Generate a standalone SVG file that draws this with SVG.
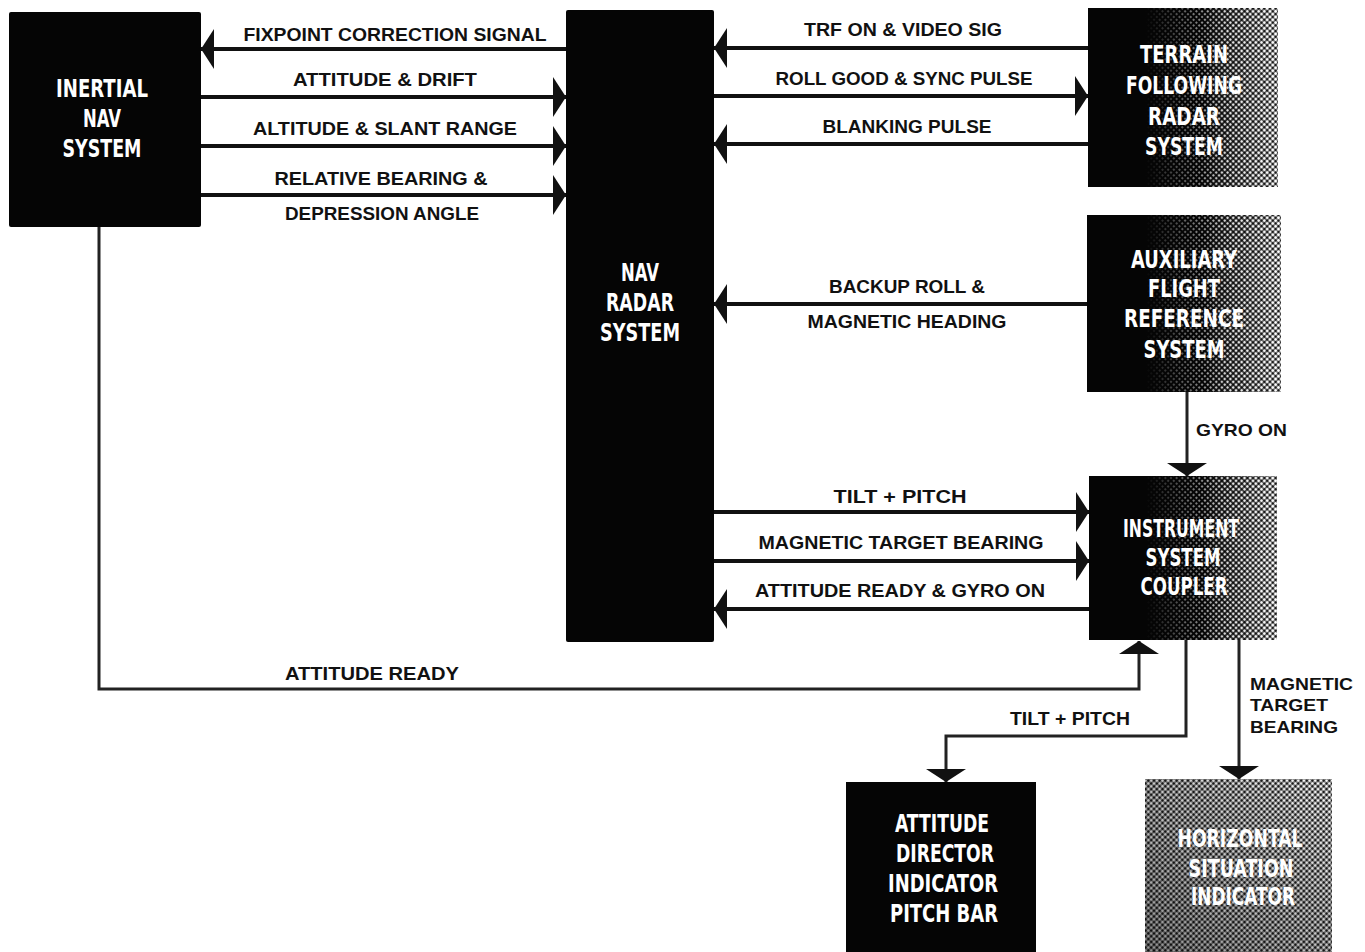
<svg xmlns="http://www.w3.org/2000/svg" width="1365" height="952" viewBox="0 0 1365 952">
  <style>
    .box { fill: #050505; }
    .btxt { fill: #ffffff; font-family: "DejaVu Sans Condensed", "Liberation Sans Narrow", "Liberation Sans", sans-serif; font-weight: bold; font-size: 25px; text-anchor: middle; }
    .lbl { fill: #111111; font-family: "Liberation Sans", Arial, sans-serif; font-weight: bold; font-size: 18px; text-anchor: middle; }
    .lbl-l { fill: #111111; font-family: "Liberation Sans", Arial, sans-serif; font-weight: bold; font-size: 17px; }
    .wire { fill: none; stroke: #111111; stroke-width: 4; marker-end: url(#head); }
    .wire-v { fill: none; stroke: #222222; stroke-width: 3; marker-end: url(#head); }
  </style>
  <defs>
    <marker id="head" markerUnits="userSpaceOnUse" markerWidth="13" markerHeight="40" refX="13" refY="20" orient="auto" viewBox="0 0 13 40">
      <path d="M0,0 L13,20 L0,40 Z" fill="#111111"/>
    </marker>
    <!-- halftone screens -->
    <pattern id="dotsSmall" width="4" height="4" patternUnits="userSpaceOnUse" patternTransform="rotate(45)">
      <circle cx="2" cy="2" r="1.1" fill="#ffffff"/>
    </pattern>
    <pattern id="dotsLarge" width="4" height="4" patternUnits="userSpaceOnUse" patternTransform="rotate(45)">
      <circle cx="2" cy="2" r="1.7" fill="#ffffff"/>
    </pattern>
    <linearGradient id="fadeA" x1="0" y1="0" x2="1" y2="0">
      <stop offset="0.3" stop-color="#000"/>
      <stop offset="0.75" stop-color="#fff"/>
    </linearGradient>
    <linearGradient id="fadeB" x1="0" y1="0" x2="1" y2="0">
      <stop offset="0.6" stop-color="#000"/>
      <stop offset="1" stop-color="#fff"/>
    </linearGradient>
    <linearGradient id="fadeH" x1="0" y1="1" x2="1" y2="0">
      <stop offset="0" stop-color="#8a8a8a"/>
      <stop offset="1" stop-color="#ffffff"/>
    </linearGradient>
    <mask id="maskA" maskContentUnits="objectBoundingBox">
      <rect x="0" y="0" width="1" height="1" fill="url(#fadeA)"/>
    </mask>
    <mask id="maskB" maskContentUnits="objectBoundingBox">
      <rect x="0" y="0" width="1" height="1" fill="url(#fadeB)"/>
    </mask>
    <mask id="maskH" maskContentUnits="objectBoundingBox">
      <rect x="0" y="0" width="1" height="1" fill="url(#fadeH)"/>
    </mask>
  </defs>

  <rect width="1365" height="952" fill="#ffffff"/>

  <!-- connectors -->
  <g id="connectors">
    <path class="wire" d="M566,49 L201,49"/>
    <path class="wire" d="M201,97 L566,97"/>
    <path class="wire" d="M201,146 L566,146"/>
    <path class="wire" d="M201,195 L566,195"/>
    <path class="wire" d="M1088,48 L714,48"/>
    <path class="wire" d="M714,96 L1088,96"/>
    <path class="wire" d="M1088,144 L714,144"/>
    <path class="wire" d="M1088,304 L714,304"/>
    <path class="wire-v" d="M1187,392 L1187,476"/>
    <path class="wire" d="M714,512 L1089,512"/>
    <path class="wire" d="M714,561 L1089,561"/>
    <path class="wire" d="M1089,609 L714,609"/>
    <path class="wire-v" d="M99,227 L99,689 L1139,689 L1139,641"/>
    <path class="wire-v" d="M1186,640 L1186,736 L946,736 L946,782"/>
    <path class="wire-v" d="M1239,640 L1239,779"/>
  </g>

  <!-- connector labels -->
  <g id="labels">
    <text class="lbl" x="395" y="41" textLength="303" lengthAdjust="spacingAndGlyphs">FIXPOINT CORRECTION SIGNAL</text>
    <text class="lbl" x="385" y="86" textLength="184" lengthAdjust="spacingAndGlyphs">ATTITUDE &amp; DRIFT</text>
    <text class="lbl" x="385" y="135" textLength="264" lengthAdjust="spacingAndGlyphs">ALTITUDE &amp; SLANT RANGE</text>
    <text class="lbl" x="381" y="185" textLength="213" lengthAdjust="spacingAndGlyphs">RELATIVE BEARING &amp;</text>
    <text class="lbl" x="382" y="220" textLength="194" lengthAdjust="spacingAndGlyphs">DEPRESSION ANGLE</text>
    <text class="lbl" x="903" y="36" textLength="198" lengthAdjust="spacingAndGlyphs">TRF ON &amp; VIDEO SIG</text>
    <text class="lbl" x="904" y="85" textLength="257" lengthAdjust="spacingAndGlyphs">ROLL GOOD &amp; SYNC PULSE</text>
    <text class="lbl" x="907" y="133" textLength="169" lengthAdjust="spacingAndGlyphs">BLANKING PULSE</text>
    <text class="lbl" x="907" y="293" textLength="156" lengthAdjust="spacingAndGlyphs">BACKUP ROLL &amp;</text>
    <text class="lbl" x="907" y="328" textLength="199" lengthAdjust="spacingAndGlyphs">MAGNETIC HEADING</text>
    <text class="lbl-l" x="1196" y="436" textLength="91" lengthAdjust="spacingAndGlyphs">GYRO ON</text>
    <text class="lbl" x="900" y="503" textLength="133" lengthAdjust="spacingAndGlyphs">TILT + PITCH</text>
    <text class="lbl" x="901" y="549" textLength="285" lengthAdjust="spacingAndGlyphs">MAGNETIC TARGET BEARING</text>
    <text class="lbl" x="900" y="597" textLength="290" lengthAdjust="spacingAndGlyphs">ATTITUDE READY &amp; GYRO ON</text>
    <text class="lbl" x="372" y="680" textLength="174" lengthAdjust="spacingAndGlyphs">ATTITUDE READY</text>
    <text class="lbl" x="1070" y="725" textLength="120" lengthAdjust="spacingAndGlyphs">TILT + PITCH</text>
    <text class="lbl-l" x="1250" y="690" textLength="103" lengthAdjust="spacingAndGlyphs">MAGNETIC</text>
    <text class="lbl-l" x="1250" y="711" textLength="78" lengthAdjust="spacingAndGlyphs">TARGET</text>
    <text class="lbl-l" x="1250" y="733" textLength="88" lengthAdjust="spacingAndGlyphs">BEARING</text>
  </g>

  <!-- Inertial nav system -->
  <g id="inertial-nav">
    <rect class="box" x="9" y="12" width="192" height="215" rx="2"/>
    <text class="btxt" x="102" y="97" textLength="92" lengthAdjust="spacingAndGlyphs">INERTIAL</text>
    <text class="btxt" x="102" y="127" textLength="38" lengthAdjust="spacingAndGlyphs">NAV</text>
    <text class="btxt" x="102" y="157" textLength="79" lengthAdjust="spacingAndGlyphs">SYSTEM</text>
  </g>

  <!-- Nav radar system -->
  <g id="nav-radar">
    <rect class="box" x="566" y="10" width="148" height="632" rx="2"/>
    <text class="btxt" x="640" y="281" textLength="38" lengthAdjust="spacingAndGlyphs">NAV</text>
    <text class="btxt" x="640" y="311" textLength="68" lengthAdjust="spacingAndGlyphs">RADAR</text>
    <text class="btxt" x="640" y="341" textLength="80" lengthAdjust="spacingAndGlyphs">SYSTEM</text>
  </g>

  <!-- Terrain following radar system -->
  <g id="terrain-following-radar">
    <rect class="box" x="1088" y="8" width="190" height="179"/>
    <rect x="1088" y="8" width="190" height="179" fill="url(#dotsSmall)" mask="url(#maskA)"/>
    <rect x="1088" y="8" width="190" height="179" fill="url(#dotsLarge)" mask="url(#maskB)"/>
    <text class="btxt" x="1184" y="63" textLength="88" lengthAdjust="spacingAndGlyphs">TERRAIN</text>
    <text class="btxt" x="1184" y="94" textLength="116" lengthAdjust="spacingAndGlyphs">FOLLOWING</text>
    <text class="btxt" x="1184" y="125" textLength="72" lengthAdjust="spacingAndGlyphs">RADAR</text>
    <text class="btxt" x="1184" y="155" textLength="78" lengthAdjust="spacingAndGlyphs">SYSTEM</text>
  </g>

  <!-- Auxiliary flight reference system -->
  <g id="auxiliary-flight-reference">
    <rect class="box" x="1087" y="215" width="194" height="177"/>
    <rect x="1087" y="215" width="194" height="177" fill="url(#dotsSmall)" mask="url(#maskA)"/>
    <rect x="1087" y="215" width="194" height="177" fill="url(#dotsLarge)" mask="url(#maskB)"/>
    <text class="btxt" x="1184" y="268" textLength="106" lengthAdjust="spacingAndGlyphs">AUXILIARY</text>
    <text class="btxt" x="1184" y="297" textLength="72" lengthAdjust="spacingAndGlyphs">FLIGHT</text>
    <text class="btxt" x="1184" y="327" textLength="120" lengthAdjust="spacingAndGlyphs">REFERENCE</text>
    <text class="btxt" x="1184" y="358" textLength="81" lengthAdjust="spacingAndGlyphs">SYSTEM</text>
  </g>

  <!-- Instrument system coupler -->
  <g id="instrument-system-coupler">
    <rect class="box" x="1089" y="476" width="188" height="164"/>
    <rect x="1089" y="476" width="188" height="164" fill="url(#dotsSmall)" mask="url(#maskA)"/>
    <rect x="1089" y="476" width="188" height="164" fill="url(#dotsLarge)" mask="url(#maskB)"/>
    <text class="btxt" x="1181" y="537" textLength="116" lengthAdjust="spacingAndGlyphs">INSTRUMENT</text>
    <text class="btxt" x="1183" y="566" textLength="75" lengthAdjust="spacingAndGlyphs">SYSTEM</text>
    <text class="btxt" x="1184" y="595" textLength="87" lengthAdjust="spacingAndGlyphs">COUPLER</text>
  </g>

  <!-- Attitude director indicator pitch bar -->
  <g id="attitude-director-indicator">
    <rect class="box" x="846" y="782" width="190" height="175"/>
    <text class="btxt" x="942" y="832" textLength="94" lengthAdjust="spacingAndGlyphs">ATTITUDE</text>
    <text class="btxt" x="945" y="862" textLength="98" lengthAdjust="spacingAndGlyphs">DIRECTOR</text>
    <text class="btxt" x="943" y="892" textLength="110" lengthAdjust="spacingAndGlyphs">INDICATOR</text>
    <text class="btxt" x="944" y="922" textLength="108" lengthAdjust="spacingAndGlyphs">PITCH BAR</text>
  </g>

  <!-- Horizontal situation indicator -->
  <g id="horizontal-situation-indicator">
    <rect class="box" x="1145" y="779" width="187" height="178"/>
    <rect x="1145" y="779" width="187" height="178" fill="url(#dotsLarge)" mask="url(#maskH)"/>
    <text class="btxt" x="1240" y="847" textLength="125" lengthAdjust="spacingAndGlyphs">HORIZONTAL</text>
    <text class="btxt" x="1241" y="877" textLength="105" lengthAdjust="spacingAndGlyphs">SITUATION</text>
    <text class="btxt" x="1243" y="905" textLength="104" lengthAdjust="spacingAndGlyphs">INDICATOR</text>
  </g>
</svg>
